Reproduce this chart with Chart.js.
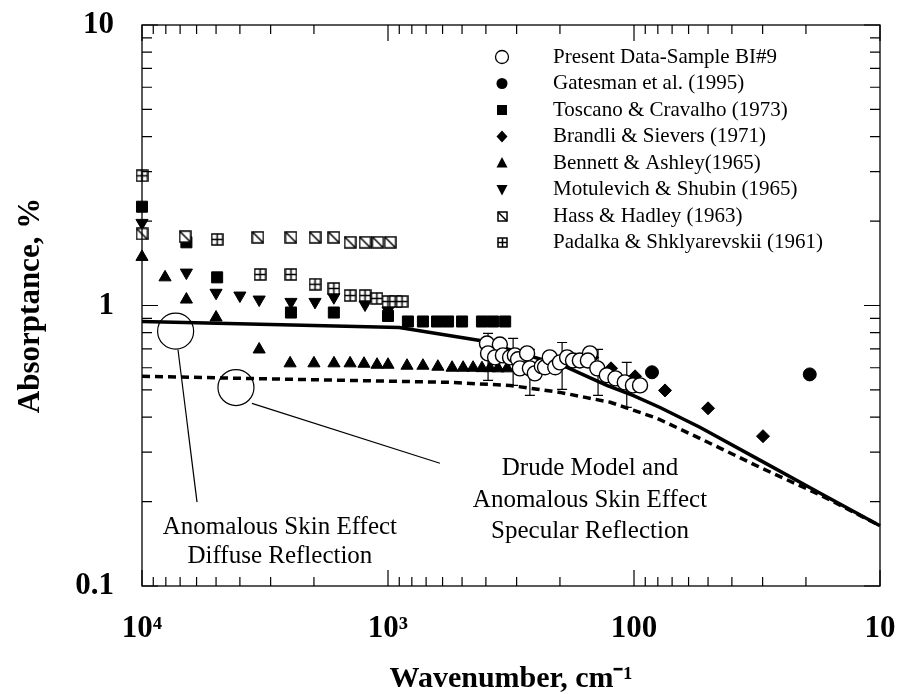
<!DOCTYPE html>
<html>
<head>
<meta charset="utf-8">
<script src="https://cdn.jsdelivr.net/npm/chart.js@4.4.1/dist/chart.umd.min.js"></script>
<style>
  html, body { margin: 0; padding: 0; background: #fff; }
  canvas { display: block; }
</style>
</head>
<body>
<canvas id="chart" width="903" height="694"></canvas>
<script>
const xTickValues = [10000, 1000, 100, 10];
const xTickLabels = ["10⁴", "10³", "100", "10"];
const yTickValues = [0.1, 1, 10];
const yTickLabels = ["0.1", "1", "10"];

// Present Data-Sample BI#9 (wavenumber cm-1, absorptance %)
const presentWn  = [396, 351, 392, 367, 341, 319, 305, 296, 272, 291, 265, 253, 237, 230, 220, 209, 200, 187, 177, 166, 151, 154, 141, 129, 119, 109, 101, 94.5];
const presentAbs = [0.732, 0.726, 0.675, 0.653, 0.664, 0.653, 0.664, 0.643, 0.675, 0.597, 0.597, 0.573, 0.607, 0.602, 0.653, 0.602, 0.627, 0.653, 0.637, 0.637, 0.675, 0.637, 0.597, 0.564, 0.55, 0.532, 0.519, 0.519];
// error bars on some of the present points
const errWn   = [392, 310, 265, 196, 140, 107];
const errLow  = [0.541, 0.519, 0.478, 0.502, 0.478, 0.433];
const errHigh = [0.795, 0.763, 0.697, 0.738, 0.697, 0.627];

const gatesmanWn  = [84.5, 19.3];
const gatesmanAbs = [0.578, 0.568];

const toscanoWn  = [10000, 6600, 4950, 2480, 1660, 1000, 830, 721, 632, 570, 500, 415, 374, 334];
const toscanoAbs = [2.25, 1.68, 1.26, 0.944, 0.944, 0.918, 0.877, 0.877, 0.877, 0.877, 0.877, 0.877, 0.877, 0.877];

const brandliWn  = [148, 124, 99, 74.8, 50, 29.9];
const brandliAbs = [0.653, 0.597, 0.559, 0.498, 0.43, 0.342];

const bennettWn  = [10000, 8060, 6600, 5000, 3340, 2500, 2000, 1658, 1426, 1252, 1108, 1000, 837, 721, 627, 549, 495, 451, 415, 385, 357, 328];
const bennettAbs = [1.49, 1.26, 1.05, 0.906, 0.697, 0.622, 0.622, 0.622, 0.622, 0.62, 0.615, 0.615, 0.61, 0.61, 0.605, 0.6, 0.6, 0.6, 0.598, 0.598, 0.597, 0.597];

const motulevichWn  = [10000, 6600, 5000, 4000, 3340, 2480, 1980, 1660, 1240, 1000];
const motulevichAbs = [1.97, 1.31, 1.11, 1.085, 1.05, 1.03, 1.03, 1.07, 1.008, 0.96];

const hassWn  = [10000, 6680, 3380, 2480, 1980, 1660, 1426, 1240, 1100, 980];
const hassAbs = [1.8, 1.76, 1.75, 1.75, 1.75, 1.75, 1.68, 1.68, 1.68, 1.68];

const padalkaWn  = [10000, 4950, 3310, 2480, 1980, 1660, 1426, 1240, 1110, 1000, 935, 877];
const padalkaAbs = [2.9, 1.72, 1.29, 1.29, 1.19, 1.15, 1.085, 1.085, 1.06, 1.033, 1.033, 1.033];

// model curves
const diffuseWn  = [10000, 900, 423, 187, 129, 101, 78.4, 54, 30.8, 17.5, 10];
const diffuseAbs = [0.877, 0.835, 0.75, 0.602, 0.519, 0.478, 0.433, 0.368, 0.281, 0.214, 0.164];
const specularWn  = [10000, 560, 319, 200, 125, 80.6, 54, 30.8, 17.5, 10];
const specularAbs = [0.559, 0.532, 0.519, 0.49, 0.452, 0.396, 0.336, 0.265, 0.211, 0.164];

// callouts (data coordinates)
const calloutCircles = [[7300, 0.81], [4150, 0.51]];
const calloutLines = [[7140, 0.697, 5976, 0.199], [3574, 0.448, 615, 0.274]];
const calloutTexts = [
  [2750, 0.162, "Anomalous Skin Effect"],
  [2750, 0.127, "Diffuse Reflection"],
  [151, 0.263, "Drude Model and"],
  [151, 0.202, "Anomalous Skin Effect"],
  [151, 0.156, "Specular Reflection"],
];

const pts = (xs, ys) => xs.map((x, i) => ({ x: x, y: ys[i] }));
const serif = "'Liberation Serif', 'Times New Roman', serif";
Chart.defaults.font.family = serif;
Chart.defaults.color = "#000";

function boxMarker(size, kind) {
  const c = document.createElement("canvas");
  c.width = size + 2;
  c.height = size + 2;
  const g = c.getContext("2d");
  g.fillStyle = "#fff";
  g.fillRect(1, 1, size, size);
  g.strokeStyle = "#000";
  g.lineWidth = 1.5;
  g.strokeRect(1, 1, size, size);
  g.beginPath();
  if (kind === "diag") {
    g.moveTo(1, 1);
    g.lineTo(1 + size, 1 + size);
  } else {
    g.moveTo(1 + size / 2, 1);
    g.lineTo(1 + size / 2, 1 + size);
    g.moveTo(1, 1 + size / 2);
    g.lineTo(1 + size, 1 + size / 2);
  }
  g.stroke();
  return c;
}
const hassImg = boxMarker(11, "diag");
const padalkaImg = boxMarker(11, "grid");

function scatterSet(label, data, style, extra) {
  return Object.assign({
    label: label,
    data: data,
    pointStyle: style,
    backgroundColor: "#000",
    borderColor: "#000",
    borderWidth: 1,
    pointRadius: 7,
    showLine: false,
    clip: false,
  }, extra || {});
}

const datasets = [
  scatterSet("Present Data-Sample BI#9", pts(presentWn, presentAbs), "circle",
    { backgroundColor: "#fff", borderWidth: 1.4, pointRadius: 7.5 }),
  scatterSet("Gatesman et al. (1995)", pts(gatesmanWn, gatesmanAbs), "circle", { pointRadius: 6.5 }),
  scatterSet("Brandli & Sievers (1971)", pts(brandliWn, brandliAbs), "rectRot", { pointRadius: 6.5 }),
  scatterSet("Hass & Hadley (1963)", pts(hassWn, hassAbs), hassImg),
  scatterSet("Toscano & Cravalho (1973)", pts(toscanoWn, toscanoAbs), "rect", { pointRadius: 7.8 }),
  scatterSet("Padalka & Shklyarevskii (1961)", pts(padalkaWn, padalkaAbs), padalkaImg),
  scatterSet("Motulevich & Shubin (1965)", pts(motulevichWn, motulevichAbs), "triangle", { pointRotation: 180 }),
  scatterSet("Bennett & Ashley(1965)", pts(bennettWn, bennettAbs), "triangle"),
  {
    label: "diffuse", data: pts(diffuseWn, diffuseAbs), showLine: true, pointRadius: 0,
    borderColor: "#000", borderWidth: 3.5, tension: 0, clip: false,
  },
  {
    label: "specular", data: pts(specularWn, specularAbs), showLine: true, pointRadius: 0,
    borderColor: "#000", borderWidth: 3.5, borderDash: [8, 5], tension: 0, clip: false,
  },
];

const legendRows = [
  ["open", "Present Data-Sample BI#9"],
  ["dot", "Gatesman et al. (1995)"],
  ["square", "Toscano & Cravalho (1973)"],
  ["diamond", "Brandli & Sievers (1971)"],
  ["tri", "Bennett & Ashley(1965)"],
  ["triDown", "Motulevich & Shubin (1965)"],
  ["hass", "Hass & Hadley (1963)"],
  ["padalka", "Padalka & Shklyarevskii (1961)"],
];

function legendMarker(ctx, kind, x, y) {
  ctx.save();
  ctx.fillStyle = "#000";
  ctx.strokeStyle = "#000";
  ctx.lineWidth = 1.3;
  ctx.beginPath();
  if (kind === "open") {
    ctx.arc(x, y, 6.5, 0, Math.PI * 2);
    ctx.stroke();
  } else if (kind === "dot") {
    ctx.arc(x, y, 5.5, 0, Math.PI * 2);
    ctx.fill();
  } else if (kind === "square") {
    ctx.fillRect(x - 5, y - 5, 10, 10);
  } else if (kind === "diamond") {
    ctx.moveTo(x, y - 6); ctx.lineTo(x + 5.5, y); ctx.lineTo(x, y + 6); ctx.lineTo(x - 5.5, y);
    ctx.closePath(); ctx.fill();
  } else if (kind === "tri") {
    ctx.moveTo(x, y - 6); ctx.lineTo(x + 5.5, y + 4.5); ctx.lineTo(x - 5.5, y + 4.5);
    ctx.closePath(); ctx.fill();
  } else if (kind === "triDown") {
    ctx.moveTo(x, y + 6); ctx.lineTo(x + 5.5, y - 4.5); ctx.lineTo(x - 5.5, y - 4.5);
    ctx.closePath(); ctx.fill();
  } else {
    const img = boxMarker(9, kind === "hass" ? "diag" : "grid");
    ctx.drawImage(img, Math.round(x - img.width / 2), Math.round(y - img.height / 2));
  }
  ctx.restore();
}

function minorValues(lo, hi) {
  const out = [];
  for (let d = lo; d < hi; d *= 10) {
    for (let k = 2; k <= 9; k++) out.push(k * d);
  }
  return out;
}

// keep the plot box where the original has it: no extra room for edge labels
function noEdgePadding(s) {
  s.paddingTop = 0;
  s.paddingBottom = 0;
  s.paddingLeft = 0;
  s.paddingRight = 0;
}

const annotations = {
  id: "annotations",
  beforeDraw(chart) {
    const ctx = chart.ctx;
    ctx.save();
    ctx.fillStyle = "#fff";
    ctx.fillRect(0, 0, chart.width, chart.height);
    ctx.restore();
  },
  beforeDatasetsDraw(chart) {
    const { ctx, scales: { x, y } } = chart;
    ctx.save();
    ctx.strokeStyle = "#000";
    // error bars
    ctx.lineWidth = 1.2;
    errWn.forEach((wn, i) => {
      const px = x.getPixelForValue(wn);
      const y1 = y.getPixelForValue(errLow[i]);
      const y2 = y.getPixelForValue(errHigh[i]);
      ctx.beginPath();
      ctx.moveTo(px, y1); ctx.lineTo(px, y2);
      ctx.moveTo(px - 5, y1); ctx.lineTo(px + 5, y1);
      ctx.moveTo(px - 5, y2); ctx.lineTo(px + 5, y2);
      ctx.stroke();
    });
    // callout circles and leader lines
    calloutCircles.forEach(([wn, a]) => {
      ctx.beginPath();
      ctx.arc(x.getPixelForValue(wn), y.getPixelForValue(a), 18, 0, Math.PI * 2);
      ctx.stroke();
    });
    calloutLines.forEach(([w1, a1, w2, a2]) => {
      ctx.beginPath();
      ctx.moveTo(x.getPixelForValue(w1), y.getPixelForValue(a1));
      ctx.lineTo(x.getPixelForValue(w2), y.getPixelForValue(a2));
      ctx.stroke();
    });
    ctx.fillStyle = "#000";
    ctx.font = "25px " + serif;
    ctx.textAlign = "center";
    ctx.textBaseline = "middle";
    calloutTexts.forEach(([wn, a, t]) => {
      ctx.fillText(t, x.getPixelForValue(wn), y.getPixelForValue(a));
    });
    ctx.restore();
  },
  afterDraw(chart) {
    const { ctx, chartArea: ca, scales: { x, y } } = chart;
    ctx.save();
    ctx.strokeStyle = "#000";
    ctx.lineWidth = 1.3;
    ctx.strokeRect(ca.left, ca.top, ca.right - ca.left, ca.bottom - ca.top);
    ctx.lineWidth = 1.2;
    ctx.beginPath();
    const xTick = (v, len) => {
      const px = x.getPixelForValue(v);
      ctx.moveTo(px, ca.bottom); ctx.lineTo(px, ca.bottom - len);
      ctx.moveTo(px, ca.top); ctx.lineTo(px, ca.top + len);
    };
    const yTick = (v, len) => {
      const py = y.getPixelForValue(v);
      ctx.moveTo(ca.left, py); ctx.lineTo(ca.left + len, py);
      ctx.moveTo(ca.right, py); ctx.lineTo(ca.right - len, py);
    };
    minorValues(10, 10000).forEach(v => xTick(v, 9));
    xTickValues.forEach(v => xTick(v, 16));
    minorValues(0.1, 10).forEach(v => yTick(v, 10));
    yTickValues.forEach(v => yTick(v, 16));
    ctx.stroke();

    // legend
    ctx.fillStyle = "#000";
    ctx.font = "21px " + serif;
    ctx.textAlign = "left";
    ctx.textBaseline = "middle";
    legendRows.forEach(([kind, text], i) => {
      const ry = 57 + i * 26.5;
      legendMarker(ctx, kind, 502, ry);
      ctx.fillText(text, 553, ry);
    });
    ctx.restore();
  },
};

new Chart(document.getElementById("chart"), {
  type: "scatter",
  data: { datasets: datasets },
  options: {
    responsive: false,
    animation: false,
    layout: { padding: { top: 25, right: 23, left: 0, bottom: 0 } },
    plugins: {
      legend: { display: false },
      tooltip: { enabled: false },
    },
    scales: {
      x: {
        type: "logarithmic",
        reverse: true,
        min: 10,
        max: 10000,
        grid: { display: false, drawTicks: false },
        border: { display: false },
        afterBuildTicks: s => { s.ticks = xTickValues.map(v => ({ value: v })); },
        afterFit: s => { s.height = 108; noEdgePadding(s); },
        ticks: {
          autoSkip: false,
          maxRotation: 0,
          padding: 24,
          font: { size: 31, weight: "bold" },
          callback: v => xTickLabels[xTickValues.indexOf(v)],
        },
        title: {
          display: true,
          text: "Wavenumber, cm⁻¹",
          font: { size: 30, weight: "bold" },
          padding: { top: 0, bottom: -3 },
        },
      },
      y: {
        type: "logarithmic",
        min: 0.1,
        max: 10,
        grid: { display: false, drawTicks: false },
        border: { display: false },
        afterBuildTicks: s => { s.ticks = yTickValues.map(v => ({ value: v })); },
        afterFit: s => { s.width = 142; noEdgePadding(s); },
        ticks: {
          autoSkip: false,
          padding: 28,
          font: { size: 31, weight: "bold" },
          callback: v => yTickLabels[yTickValues.indexOf(v)],
        },
        title: {
          display: true,
          text: "Absorptance, %",
          font: { size: 31, weight: "bold" },
          padding: { top: 12, bottom: 0 },
        },
      },
    },
  },
  plugins: [annotations],
});
</script>
</body>
</html>
